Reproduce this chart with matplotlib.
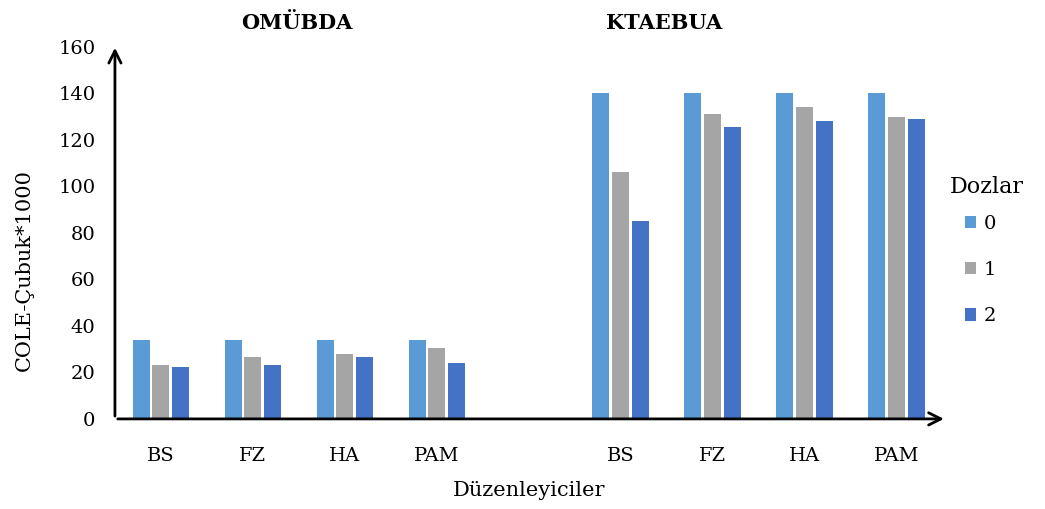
import matplotlib.pyplot as plt
import numpy as np

plt.rcParams['font.family'] = ['DejaVu Serif']

categories = ['BS', 'FZ', 'HA', 'PAM']
groups = ['OMÜBDA', 'KTAEBUA']
doses = ['0', '1', '2']
colors = ['#5B9BD5', '#A5A5A5', '#4472C4']

# values per dose, left group then right group
omubda = {
    '0': [34, 34, 34, 34],
    '1': [23, 26.5, 28, 30.5],
    '2': [22.5, 23, 26.5, 24],
}
ktaebua = {
    '0': [140, 140, 140, 140],
    '1': [106, 131, 134, 130],
    '2': [85, 125.5, 128, 129],
}

fig = plt.figure(figsize=(10.45, 5.09), dpi=100)
ax = fig.add_axes([0.110, 0.177, 0.792, 0.731])

# 9 slots: 4 left, one empty, 4 right
x_left = np.arange(4)
x_right = np.arange(5, 9)
w = 0.185
offsets = [-0.215, 0, 0.215]

for i, d in enumerate(doses):
    ax.bar(x_left + offsets[i], omubda[d], w, color=colors[i], label=d)
    ax.bar(x_right + offsets[i], ktaebua[d], w, color=colors[i])

ax.set_xlim(-0.5, 8.5)
ax.set_ylim(0, 160)
ax.set_yticks(np.arange(0, 161, 20))
ax.set_xticks(np.concatenate([x_left, x_right]))
ax.set_xticklabels(categories + categories)
ax.tick_params(axis='both', length=0, labelsize=14)
ax.tick_params(axis='x', pad=20)
ax.tick_params(axis='y', pad=14)
for s in ax.spines.values():
    s.set_visible(False)

# axes drawn as arrows
ax.annotate('', xy=(0, 1.005), xytext=(0, 0), xycoords='axes fraction',
            arrowprops=dict(arrowstyle='->', lw=2, color='black', mutation_scale=22))
ax.annotate('', xy=(1.005, 0), xytext=(0, 0), xycoords='axes fraction',
            arrowprops=dict(arrowstyle='->', lw=2, color='black', mutation_scale=22))

ax.set_ylabel('COLE-Çubuk*1000', fontsize=15)
ax.yaxis.set_label_coords(-0.098, 0.40)
ax.set_xlabel('Düzenleyiciler', fontsize=15, labelpad=12)

fig.text(0.284, 0.955, groups[0], ha='center', va='center', fontsize=15, fontweight='bold')
fig.text(0.636, 0.955, groups[1], ha='center', va='center', fontsize=15, fontweight='bold')

fig.text(0.909, 0.633, 'Dozlar', ha='left', va='center', fontsize=16)
ax.legend(loc='upper left', bbox_to_anchor=(0.923, 0.578),
          bbox_transform=fig.transFigure, frameon=False, fontsize=14,
          handlelength=0.6, handleheight=0.6, handletextpad=0.4,
          labelspacing=1.45, borderaxespad=0, borderpad=0)

fig.savefig('out.png', dpi=100)
